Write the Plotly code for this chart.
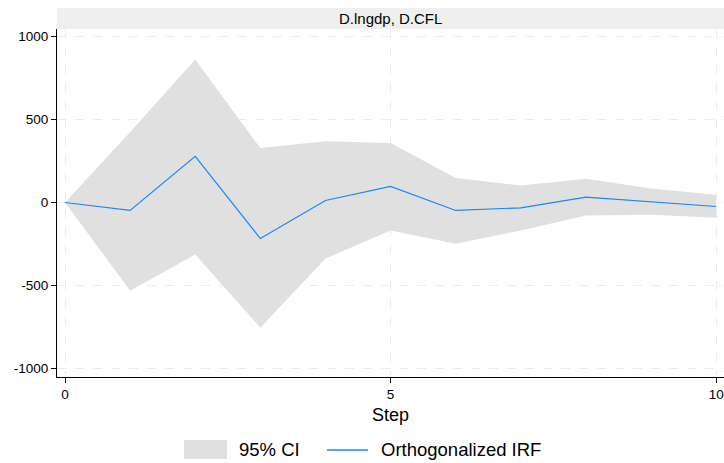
import plotly.graph_objects as go

steps = [0, 1, 2, 3, 4, 5, 6, 7, 8, 9, 10]
irf = [0, -48, 278, -217, 12, 97, -48, -32, 32, 6, -24]
ci_upper = [0, 425, 862, 328, 369, 358, 147, 103, 143, 84, 46]
ci_lower = [0, -532, -314, -755, -338, -169, -248, -169, -79, -74, -92]

panel_title = "D.lngdp, D.CFL"
x_ticks = [0, 5, 10]
y_ticks = [-1000, -500, 0, 500, 1000]
y_tick_labels = ["-1000", "-500", "0", "500", "1000"]
legend_labels = ["95% CI", "Orthogonalized IRF"]

FONT = "Liberation Sans, Arial, sans-serif"
FILL = "#e0e0e0"
BLUE = "#1a85ff"

W, H = 724, 463
ML, MR, MT, MB = 57, 0, 29, 86
PW, PH = W - ML - MR, H - MT - MB


def px(x):
    return (x - ML) / PW


def py(y):
    return (H - MB - y) / PH


fig = go.Figure()
fig.add_trace(go.Scatter(
    x=steps + steps[::-1], y=ci_upper + ci_lower[::-1],
    fill="toself", fillcolor=FILL, line=dict(width=0, color=FILL),
    mode="lines", name=legend_labels[0], hoverinfo="skip", showlegend=False))
fig.add_trace(go.Scatter(
    x=steps, y=irf, mode="lines", name=legend_labels[1], showlegend=False,
    line=dict(color=BLUE, width=1.2)))

# panel header strip
fig.add_shape(type="rect", xref="paper", yref="paper", x0=0, x1=1,
              y0=py(29), y1=py(8), fillcolor="#efefef", line=dict(width=0),
              layer="below")
fig.add_annotation(text=panel_title, xref="paper", yref="paper", x=0.5,
                   y=py(18.5), showarrow=False, yanchor="middle", xanchor="center",
                   font=dict(size=15, color="#000", family=FONT))

# legend (drawn manually)
fig.add_shape(type="rect", xref="paper", yref="paper", x0=px(184), x1=px(227),
              y0=py(459), y1=py(440), fillcolor=FILL, line=dict(width=0))
fig.add_annotation(text=legend_labels[0], xref="paper", yref="paper", x=px(237),
                   y=py(450), showarrow=False, xanchor="left", yanchor="middle",
                   font=dict(size=18.5, color="#000", family=FONT))
fig.add_shape(type="line", xref="paper", yref="paper", x0=px(327), x1=px(368),
              y0=py(450), y1=py(450), line=dict(color=BLUE, width=1.5))
fig.add_annotation(text=legend_labels[1], xref="paper", yref="paper", x=px(379),
                   y=py(450), showarrow=False, xanchor="left", yanchor="middle",
                   font=dict(size=18.5, color="#000", family=FONT))

fig.update_xaxes(range=[-0.123, 10.12], tickvals=x_ticks, showline=True,
                 linecolor="#000", linewidth=1, ticks="outside", ticklen=5,
                 tickcolor="#000", showgrid=True, gridcolor="#ebebeb",
                 griddash="dash", gridwidth=1, zeroline=False, automargin=False,
                 ticklabeloverflow="allow",
                 tickfont=dict(size=13.5, color="#000", family=FONT),
                 title=dict(text="Step", font=dict(size=18, color="#000", family=FONT), standoff=7))
fig.update_yaxes(range=[-1052, 1046], tickvals=y_ticks, ticktext=y_tick_labels,
                 showline=True,
                 linecolor="#000", linewidth=1, ticks="outside", ticklen=5,
                 tickcolor="#000", showgrid=True, gridcolor="#ebebeb",
                 griddash="dash", gridwidth=1, zeroline=False, automargin=False,
                 tickfont=dict(size=13.5, color="#000", family=FONT))

fig.update_layout(
    width=W, height=H,
    margin=dict(l=ML, r=MR, t=MT, b=MB, autoexpand=False),
    paper_bgcolor="white", plot_bgcolor="white",
    font=dict(family=FONT, color="#000"),
    showlegend=False,
)

fig.write_html("out.html", config={"displayModeBar": False},
               post_script="document.body.style.margin='0';")
